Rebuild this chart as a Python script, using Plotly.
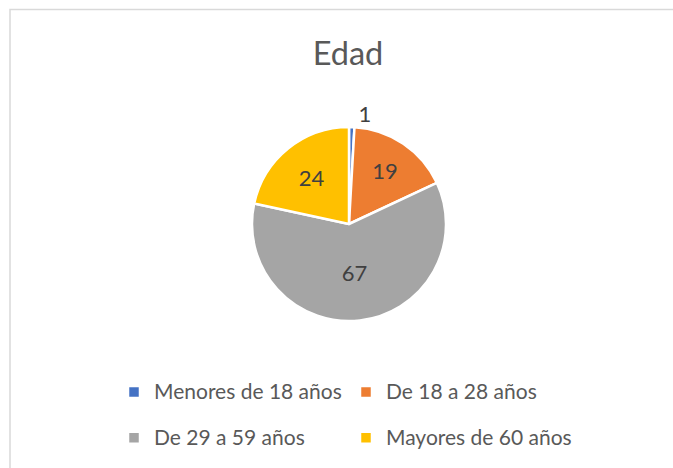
import plotly.graph_objects as go

categories = ["Menores de 18 años", "De 18 a 28 años", "De 29 a 59 años", "Mayores de 60 años"]
values = [1, 19, 67, 24]
colors = ["#4472C4", "#ED7D31", "#A5A5A5", "#FFC000"]
title_text = "Edad"

W, H = 673, 468
ML, MR = 0, 40
PW = W - ML - MR
FONT = "Lato, 'Open Sans', sans-serif"

legend_labels = ['<span style="font-size:21px;baseline-shift:6px">%s</span>' % c for c in categories]

fig = go.Figure(go.Pie(
    labels=legend_labels,
    values=values,
    sort=False,
    direction="clockwise",
    rotation=0,
    marker=dict(colors=colors, line=dict(color="white", width=2.5)),
    textinfo="value",
    textposition=["outside", "inside", "inside", "inside"],
    insidetextorientation="horizontal",
    textfont=dict(family=FONT, size=22, color="#404040"),
    outsidetextfont=dict(family=FONT, size=22, color="#404040"),
    domain=dict(x=[(252 - ML) / PW, (446 - ML) / PW], y=[1 - 321 / H, 1 - 127 / H]),
    hoverinfo="value",
))

fig.update_layout(
    width=W, height=H,
    margin=dict(l=ML, r=MR, t=0, b=0, autoexpand=False),
    paper_bgcolor="white",
    plot_bgcolor="white",
    title=dict(text=title_text, font=dict(family=FONT, size=32.5, color="#595959"),
               x=348 / W, xref="container", xanchor="center",
               y=1 - 54 / H, yref="container", yanchor="middle"),
    showlegend=True,
    legend=dict(orientation="h", xref="container", yref="container",
                x=114 / W, xanchor="left", y=1 - 364 / H, yanchor="top",
                font=dict(family=FONT, size=33, color="#595959"),
                entrywidth=187, entrywidthmode="pixels", itemwidth=30,
                bgcolor="rgba(0,0,0,0)",
                itemclick=False, itemdoubleclick=False),
    shapes=[dict(type="rect", xref="paper", yref="paper",
                 x0=(10 - ML) / PW, x1=1.2, y0=-0.02, y1=1 - 9.5 / H,
                 line=dict(color="#D9D9D9", width=1.5), fillcolor="rgba(0,0,0,0)")],
)

fig.write_html("out.html", config={"displayModeBar": False},
               post_script="document.body.style.margin='0';")
